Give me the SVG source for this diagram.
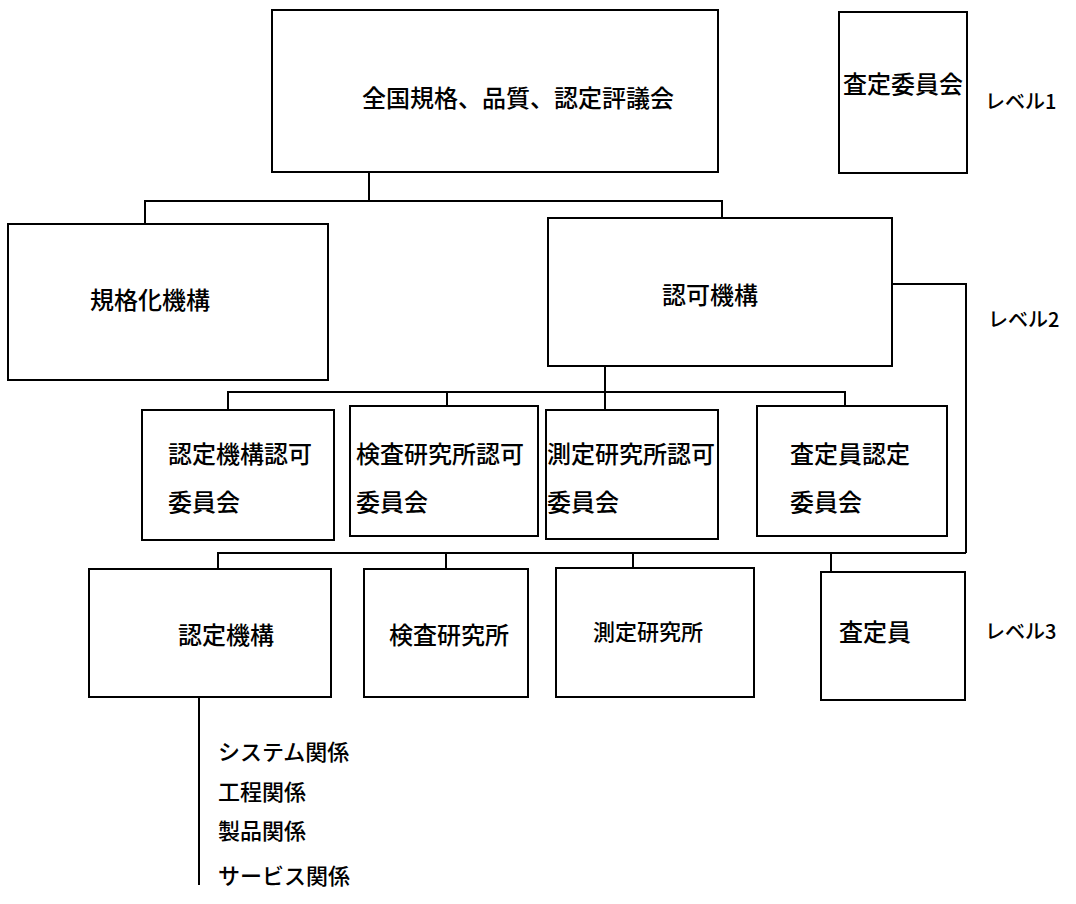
<svg xmlns="http://www.w3.org/2000/svg" width="1076" height="904" viewBox="0 0 1076 904">
<style>
.box{fill:#fff;stroke:#000;stroke-width:2}
.ln{fill:none;stroke:#000;stroke-width:2}
text{font-family:"Noto Sans CJK JP","Liberation Serif",sans-serif;font-weight:500;fill:#000;dominant-baseline:central}
.t24{font-size:24px}
.t22{font-size:22px}
.t20{font-size:20px}
.c{text-anchor:middle}
</style>
<rect width="1076" height="904" fill="#fff"/>
<g id="connectors">
<path class="ln" d="M369 172V201M145 224V201H722V218"/>
<path class="ln" d="M892 284H966V553"/>
<path class="ln" d="M605 366V392M228 410V392H845V406M447 392V406M605 392V410"/>
<path class="ln" d="M218 569V553H966M446 553V569M633 553V568M831 553V572"/>
<path class="ln" d="M199 697V885"/>
</g>
<g id="n-council"><rect class="box" x="272" y="10" width="446" height="162"/><text class="t24" x="362" y="96">全国規格、品質、認定評議会</text></g>
<g id="n-assess-committee"><rect class="box" x="839" y="12" width="128" height="161"/><text class="t24 c" x="903" y="82">査定委員会</text></g>
<g id="n-standard"><rect class="box" x="8" y="224" width="320" height="156"/><text class="t24 c" x="150" y="298">規格化機構</text></g>
<g id="n-accredit"><rect class="box" x="548" y="218" width="344" height="148"/><text class="t24 c" x="710" y="293">認可機構</text></g>
<g id="n-c1"><rect class="box" x="142" y="410" width="192" height="130"/><text class="t24" x="168" y="452">認定機構認可</text><text class="t24" x="168" y="500">委員会</text></g>
<g id="n-c2"><rect class="box" x="350" y="406" width="188" height="130"/><text class="t24" x="356" y="452">検査研究所認可</text><text class="t24" x="356" y="500">委員会</text></g>
<g id="n-c3"><rect class="box" x="546" y="410" width="172" height="129"/><text class="t24" x="547" y="452">測定研究所認可</text><text class="t24" x="547" y="500">委員会</text></g>
<g id="n-c4"><rect class="box" x="757" y="406" width="190" height="130"/><text class="t24" x="790" y="452">査定員認定</text><text class="t24" x="790" y="500">委員会</text></g>
<g id="n-cert"><rect class="box" x="89" y="569" width="242" height="128"/><text class="t24 c" x="226" y="633">認定機構</text></g>
<g id="n-insp"><rect class="box" x="364" y="569" width="164" height="128"/><text class="t24 c" x="449" y="633">検査研究所</text></g>
<g id="n-meas"><rect class="box" x="556" y="568" width="198" height="129"/><text class="t22 c" x="648" y="630">測定研究所</text></g>
<g id="n-assessor"><rect class="box" x="821" y="572" width="144" height="128"/><text class="t24 c" x="875" y="630">査定員</text></g>
<g id="labels">
<text class="t20" x="985" y="100">レベル1</text>
<text class="t20" x="988" y="318">レベル2</text>
<text class="t20" x="985" y="630">レベル3</text>
<text class="t22" x="218" y="750">システム関係</text>
<text class="t22" x="218" y="790">工程関係</text>
<text class="t22" x="218" y="829">製品関係</text>
<text class="t22" x="218" y="874">サービス関係</text>
</g>
</svg>
